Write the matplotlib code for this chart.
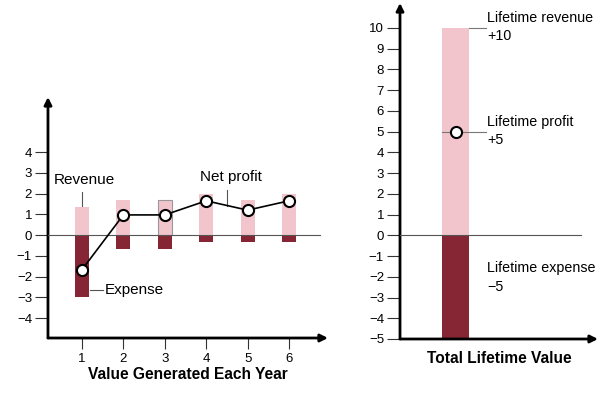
import matplotlib.pyplot as plt

plt.rcParams['font.family'] = ['Liberation Sans', 'DejaVu Sans']

years = [1, 2, 3, 4, 5, 6]
revenue = [1.33, 1.67, 1.67, 2.0, 1.67, 2.0]
expense = [-3.0, -0.67, -0.67, -0.33, -0.33, -0.33]
net_profit = [-1.67, 0.97, 0.97, 1.65, 1.2, 1.65]

lifetime_revenue = 10
lifetime_expense = -5
lifetime_profit = 5

pink = '#f2c4cc'
maroon = '#862634'

fig = plt.figure(figsize=(6.12, 3.97), dpi=100)


def draw_axes(ax, xlim, ylim):
    ax.set_xlim(*xlim)
    ax.set_ylim(*ylim)
    for s in ax.spines.values():
        s.set_visible(False)
    arrow = dict(arrowstyle='-|>', color='black', lw=2, mutation_scale=11,
                 shrinkA=0, shrinkB=0)
    ax.annotate('', xy=(xlim[0], ylim[1]), xytext=(xlim[0], ylim[0]),
                arrowprops=arrow, annotation_clip=False)
    ax.annotate('', xy=(xlim[1], ylim[0]), xytext=(xlim[0], ylim[0]),
                arrowprops=arrow, annotation_clip=False)
    ax.tick_params(axis='y', direction='out', length=9.5, width=0.8,
                   colors='#333333', labelcolor='black', labelsize=9.5, pad=2)
    ax.tick_params(axis='x', direction='out', length=8, width=0.8,
                   colors='#333333', labelcolor='black', labelsize=9.5, pad=3)


def minus(v):
    return str(v).replace('-', '\u2212')


# left: value generated each year
ax1 = fig.add_axes([0.0784, 0.1486, 0.4575, 0.607])
draw_axes(ax1, (0.18, 6.94), (-4.96, 6.65))
ax1.bar(years, revenue, width=0.34, color=pink, zorder=2)
ax1.bar(years[2], revenue[2], width=0.34, color='none', edgecolor='#999999',
        lw=0.8, zorder=2)
ax1.bar(years, expense, width=0.34, color=maroon, zorder=2)
ax1.plot([0.18, 6.75], [0, 0], color='#555555', lw=0.8, zorder=3)
ax1.plot(years, net_profit, color='black', lw=1.2, marker='o', markersize=8,
         markerfacecolor='white', markeredgecolor='black', markeredgewidth=1.5,
         zorder=4)
ax1.set_yticks(range(-4, 5))
ax1.set_yticklabels([minus(v) for v in range(-4, 5)])
ax1.set_xticks(years)
ax1.set_xlabel('Value Generated Each Year', fontsize=11.2, fontweight='bold',
               labelpad=1)

ax1.plot([1, 1], [revenue[0] + 0.05, revenue[0] + 0.75], color='#555555', lw=0.8)
ax1.text(1.05, 2.65, 'Revenue', fontsize=11, ha='center', va='center')
ax1.plot([1.2, 1.5], [-2.65, -2.65], color='#555555', lw=0.8)
ax1.text(1.56, -2.65, 'Expense', fontsize=11, ha='left', va='center')
ax1.plot([4.5, 4.5], [1.4, 2.15], color='#555555', lw=0.8)
ax1.text(4.6, 2.8, 'Net profit', fontsize=11, ha='center', va='center')

# right: total lifetime value
ax2 = fig.add_axes([0.6536, 0.1461, 0.3235, 0.8463])
draw_axes(ax2, (-2.07, 5.26), (-5, 11.2))
ax2.bar([0], [lifetime_revenue], width=1.0, color=pink, zorder=2)
ax2.bar([0], [lifetime_expense], width=1.0, color=maroon, zorder=2)
ax2.plot([-2.07, 4.63], [0, 0], color='#555555', lw=0.8, zorder=3)
ax2.plot([-0.5, 1.1], [lifetime_profit, lifetime_profit], color='#777777',
         lw=0.8, zorder=3)
ax2.plot([0], [lifetime_profit], marker='o', markersize=8,
         markerfacecolor='white', markeredgecolor='black', markeredgewidth=1.5,
         zorder=4)
ax2.plot([0.5, 1.1], [lifetime_revenue, lifetime_revenue], color='#777777', lw=0.8)
ax2.set_yticks(range(-5, 11))
ax2.set_yticklabels([minus(v) for v in range(-5, 11)])
ax2.set_xticks([])
ax2.set_xlabel('Total Lifetime Value', fontsize=11.2, fontweight='bold',
               labelpad=9)

ax2.text(1.15, lifetime_revenue + 0.47, 'Lifetime revenue', fontsize=10.3, va='center')
ax2.text(1.15, lifetime_revenue - 0.4, '+%d' % lifetime_revenue, fontsize=10.3, va='center')
ax2.text(1.15, lifetime_profit + 0.47, 'Lifetime profit', fontsize=10.3, va='center')
ax2.text(1.15, lifetime_profit - 0.4, '+%d' % lifetime_profit, fontsize=10.3, va='center')
ax2.text(1.15, -1.6, 'Lifetime expense', fontsize=10.3, va='center')
ax2.text(1.15, -2.47, minus(lifetime_expense), fontsize=10.3, va='center')

fig.savefig('out.png', dpi=100)
